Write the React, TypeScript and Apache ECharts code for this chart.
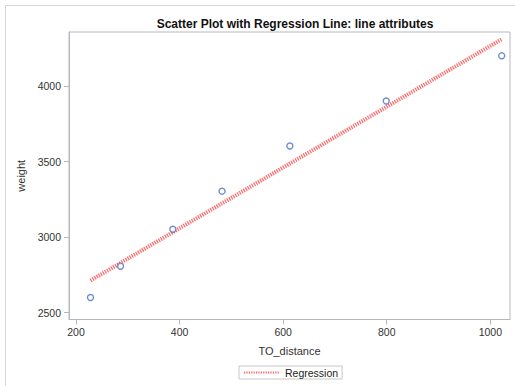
import React, { useEffect, useRef } from "react";
import * as echarts from "echarts";

const distance = [228, 286, 387, 482, 613, 799, 1022];
const weight = [2600, 2807, 3052, 3304, 3603, 3901, 4200];
const regressionLine = [
  [228, 2712],
  [1022, 4310],
];
const xTicks = [200, 400, 600, 800, 1000];
const yTicks = [2500, 3000, 3500, 4000];

const FONT = "'Liberation Sans', Arial, sans-serif";

export default function App() {
  const ref = useRef<HTMLDivElement>(null);
  useEffect(() => {
    if (!ref.current) return;
    const chart = echarts.init(ref.current, undefined, { renderer: "svg" });
    const axisCommon = {
      axisLine: { show: true, lineStyle: { color: "#b4b8bf", width: 1 } },
      axisTick: { show: true, length: 5, lineStyle: { color: "#b4b8bf" } },
      splitLine: { show: false },
      nameTextStyle: { fontFamily: FONT, fontSize: 11, color: "#333" },
    };
    chart.setOption({
      animation: false,
      backgroundColor: "#fff",
      textStyle: { fontFamily: FONT },
      graphic: [
        {
          type: "rect",
          shape: { x: 5.5, y: 5.5, width: 530, height: 420 },
          style: { fill: "none", stroke: "#d4d4d4", lineWidth: 1 },
          silent: true,
          z: -10,
        },
      ],
      title: {
        text: "Scatter Plot with Regression Line: line attributes",
        left: 290,
        textAlign: "center",
        top: 13,
        textStyle: { fontFamily: FONT, fontSize: 12, fontWeight: "bold", color: "#111" },
      },
      grid: {
        left: 69,
        right: 5,
        top: 32,
        bottom: 66.5,
        show: true,
        borderColor: "#b4b8bf",
        borderWidth: 1,
        backgroundColor: "transparent",
      },
      xAxis: {
        type: "value",
        min: 186.5,
        max: 1038,
        name: "TO_distance",
        nameLocation: "middle",
        nameGap: 26,
        ...axisCommon,
        axisTick: { ...axisCommon.axisTick, customValues: xTicks },
        axisLabel: {
          customValues: xTicks,
          formatter: (v: number) => String(v),
          fontFamily: FONT,
          fontSize: 10.5,
          color: "#333",
          margin: 7,
        },
      },
      yAxis: {
        type: "value",
        min: 2454,
        max: 4358,
        name: "weight",
        nameLocation: "middle",
        nameGap: 34,
        ...axisCommon,
        axisTick: { ...axisCommon.axisTick, customValues: yTicks },
        axisLabel: {
          customValues: yTicks,
          formatter: (v: number) => String(v),
          fontFamily: FONT,
          fontSize: 10.5,
          color: "#333",
          margin: 8,
        },
      },
      legend: {
        data: ["Regression"],
        left: 239,
        top: 366,
        itemWidth: 36,
        itemHeight: 4,
        itemGap: 4,
        padding: [1, 4, 1, 4],
        borderColor: "#c8c8c8",
        borderWidth: 1,
        borderRadius: 0,
        itemStyle: { opacity: 0 },
        textStyle: { fontFamily: FONT, fontSize: 10.5, color: "#222" },
      },
      series: [
        {
          name: "Data",
          type: "scatter",
          data: distance.map((d, i) => [d, weight[i]]),
          symbol: "circle",
          symbolSize: 6,
          itemStyle: { color: "#fff", borderColor: "#4d6fc4", borderWidth: 1.4 },
          z: 3,
        },
        {
          name: "Regression",
          type: "line",
          data: regressionLine,
          symbol: "none",
          lineStyle: { color: "rgba(255,60,60,0.8)", width: 4, type: [1.2, 1.2] },
          itemStyle: { color: "rgba(255,60,60,0.8)" },
          z: 2,
        },
      ],
    });
    return () => chart.dispose();
  }, []);
  return (
    <div
      ref={ref}
      style={{ position: "absolute", left: 0, top: 0, width: 515, height: 386 }}
    />
  );
}
